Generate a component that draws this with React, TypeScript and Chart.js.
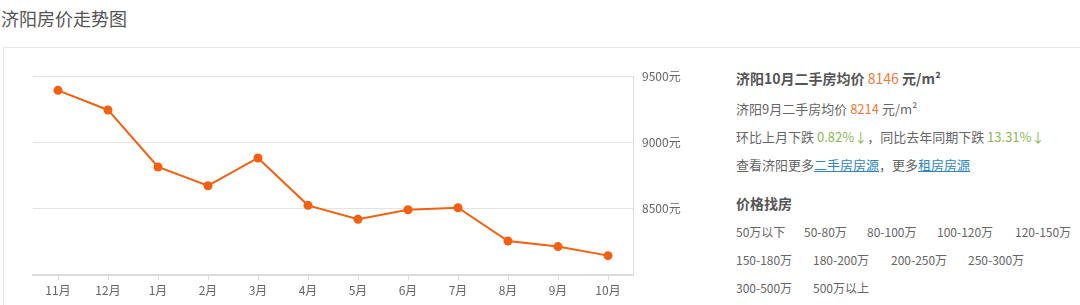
import React, { useEffect, useRef } from "react";
import { Chart, registerables } from "chart.js";

Chart.register(...registerables);

// Monthly average second-hand price (元/m²)
const months = ["11月", "12月", "1月", "2月", "3月", "4月", "5月", "6月", "7月", "8月", "9月", "10月"];
const prices = [9392, 9244, 8814, 8673, 8882, 8525, 8420, 8492, 8507, 8256, 8214, 8146];
const yTicks = [8000, 8500, 9000, 9500];

const priceRanges = [
  ["50万以下", "50-80万", "80-100万", "100-120万", "120-150万"],
  ["150-180万", "180-200万", "200-250万", "250-300万"],
  ["300-500万", "500万以上"],
];
const rangeX = [
  [736, 804, 867, 937, 1015],
  [736, 813, 891, 968],
  [736, 813],
];

const FONT = '"Noto Sans CJK SC", "Microsoft YaHei", sans-serif';
const ORANGE = "#f5783c";
const GREEN = "#87b850";
const BLUE = "#2c86c6";

function TrendChart() {
  const ref = useRef<HTMLCanvasElement | null>(null);
  useEffect(() => {
    if (!ref.current) return;
    const chart = new Chart(ref.current, {
      type: "line",
      data: {
        labels: months,
        datasets: [
          {
            data: prices,
            borderColor: "#f4600f",
            backgroundColor: "#f4600f",
            borderWidth: 2,
            pointRadius: 4.5,
            pointBorderWidth: 0,
            pointBackgroundColor: "#f4600f",
            tension: 0,
          },
        ],
      },
      options: {
        responsive: false,
        animation: false,
        layout: { padding: { left: 33, top: 28, right: 0, bottom: 0 } },
        plugins: { legend: { display: false }, tooltip: { enabled: false } },
        scales: {
          x: {
            offset: true,
            afterFit: (s: any) => {
              s.height = 30;
            },
            grid: {
              offset: false,
              drawOnChartArea: false,
              drawTicks: true,
              tickLength: 5,
              tickColor: "#dddddd",
            },
            border: { display: true, color: "#dcdcdc", width: 2 },
            ticks: {
              color: "#666",
              padding: 3,
              font: { family: FONT, size: 12 },
              maxRotation: 0,
              autoSkip: false,
            },
          },
          y: {
            position: "right",
            min: yTicks[0],
            max: yTicks[yTicks.length - 1],
            afterFit: (s: any) => {
              s.width = 87;
            },
            afterBuildTicks: (s: any) => {
              s.ticks = yTicks.map((v) => ({ value: v }));
            },
            grid: { color: "#e3e3e3", drawTicks: false },
            border: { display: true, color: "#dddddd", width: 1 },
            ticks: {
              color: "#666",
              padding: 9,
              font: { family: FONT, size: 12 },
              callback: (v: any) => (Number(v) === yTicks[0] ? "" : v + "元"),
            },
          },
        },
      },
    });
    return () => chart.destroy();
  }, []);
  return <canvas ref={ref} width={720} height={257} style={{ display: "block" }} />;
}

function Line({ top, size = 13, children, bold = false }: any) {
  return (
    <div
      style={{
        position: "absolute",
        left: 736,
        top,
        height: 20,
        lineHeight: "20px",
        fontSize: size,
        fontWeight: bold ? 700 : 400,
        color: bold ? "#555" : "#666",
        whiteSpace: "nowrap",
      }}
    >
      {children}
    </div>
  );
}

export default function App() {
  return (
    <div
      style={{
        position: "fixed",
        left: 0,
        top: 0,
        width: 1080,
        height: 305,
        overflow: "hidden",
        background: "#fff",
        fontFamily: FONT,
      }}
    >
      <div
        style={{
          position: "absolute",
          left: 1,
          top: 6,
          fontSize: 18,
          lineHeight: "24px",
          color: "#555",
        }}
      >
        济阳房价走势图
      </div>
      <div
        style={{
          position: "absolute",
          left: 3,
          top: 47,
          width: 1200,
          height: 400,
          border: "1px solid #e6e6e6",
          boxSizing: "border-box",
        }}
      />
      <div style={{ position: "absolute", left: 0, top: 48 }}>
        <TrendChart />
      </div>

      <Line top={68} size={14} bold>
        济阳10月二手房均价 <span style={{ color: ORANGE, fontWeight: 400 }}>8146</span> 元/m²
      </Line>
      <Line top={99}>
        济阳9月二手房均价 <span style={{ color: ORANGE }}>8214</span> 元/m²
      </Line>
      <Line top={127}>
        环比上月下跌 <span style={{ color: GREEN }}>0.82%↓</span>，同比去年同期下跌{" "}
        <span style={{ color: GREEN }}>13.31%↓</span>
      </Line>
      <Line top={155}>
        查看济阳更多<span style={{ color: BLUE, textDecoration: "underline" }}>二手房房源</span>，更多
        <span style={{ color: BLUE, textDecoration: "underline" }}>租房房源</span>
      </Line>
      <Line top={193} size={14} bold>
        价格找房
      </Line>
      {priceRanges.map((row, r) =>
        row.map((label, i) => (
          <div
            key={label}
            style={{
              position: "absolute",
              left: rangeX[r][i],
              top: 222 + r * 28,
              height: 20,
              lineHeight: "20px",
              fontSize: 12,
              color: "#666",
              whiteSpace: "nowrap",
            }}
          >
            {label}
          </div>
        ))
      )}
    </div>
  );
}
